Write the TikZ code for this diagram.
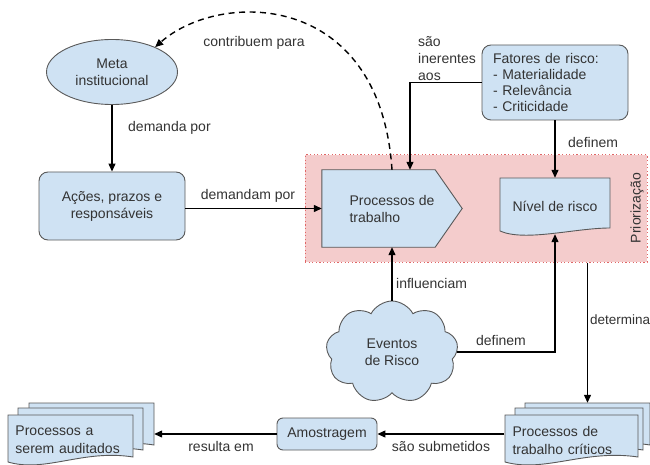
\documentclass[tikz,border=0pt]{standalone}
\usepackage{fontspec}
\setmainfont{Liberation Sans}
\usetikzlibrary{shapes.geometric,shapes.symbols,arrows.meta,calc}
\definecolor{boxfill}{HTML}{CFE2F3}
\definecolor{boxdraw}{HTML}{595959}
\definecolor{prfill}{HTML}{F4CCCC}
\definecolor{prdraw}{HTML}{E06666}
\definecolor{txt}{HTML}{333333}
\pgfdeclarelayer{bg}\pgfdeclarelayer{mid}\pgfsetlayers{bg,mid,main}
\tikzset{
  shp/.style={draw=boxdraw, fill=boxfill, line width=0.9pt},
  box/.style={shp, rounded corners=9pt, align=center},
  lbl/.style={text=txt, inner sep=0pt},
  txtonly/.style={inner sep=0pt, align=left},
  arr/.style={draw=black, line width=1.2pt, -{Triangle[length=8pt,width=7pt]}},
  pics/doc/.style={code={\filldraw[shp] (0,0) -- (#1,0) -- (#1,42) .. controls ({0.6*#1},34) and ({0.3*#1},58) .. (0,47) -- cycle;}}
}
\begin{document}
\begin{tikzpicture}[x=1pt,y=-1pt, font=\fontsize{14}{17}\selectfont, text=txt]
\useasboundingbox (0,0) rectangle (650,465);

% priorization region
\begin{pgfonlayer}{bg}
\node[draw=prdraw, fill=prfill, line width=1pt, dash pattern=on 1.2pt off 2.4pt,
      minimum width=342pt, minimum height=107pt, inner sep=0pt] (prio) at (476,208.5) {};
\end{pgfonlayer}
\node[lbl, rotate=90] (priolbl) at (637,208) {Priorização};

% main nodes
\node[shp, ellipse, minimum width=131pt, minimum height=65pt, align=center, inner sep=1pt] (meta) at (112,72) {Meta\\institucional};
\node[box, minimum width=146pt, minimum height=68pt] (acoes) at (112,206) {Ações, prazos e\\responsáveis};
\node[txtonly, minimum width=140pt, minimum height=77pt] (proc) at (392,208.5) {Processos de\\trabalho};
\node[txtonly, align=center, minimum width=110pt, minimum height=56pt] (nivel) at (555,206) {Nível de risco};
\node[box, align=left, text width=124pt, inner xsep=11pt, inner ysep=4pt, minimum height=75pt,
      font=\fontsize{14}{16.3}\selectfont] (fat) at (555,82.5) {Fatores de risco:\\- Materialidade\\- Relevância\\- Criticidade};
\node[shp, cloud, cloud puffs=9, cloud puff arc=125, aspect=1.3, minimum width=132pt, minimum height=102pt,
      inner sep=0pt, align=center] (cloud) at (392,352) {Eventos\\de Risco};
\node[box, rounded corners=6pt, minimum width=100pt, minimum height=32pt] (amos) at (327,434) {Amostragem};

% document stacks
\begin{pgfonlayer}{mid}
\filldraw[shp] (proc.north west) -- ([xshift=-27pt]proc.north east) -- (proc.east)
  -- ([xshift=-27pt]proc.south east) -- (proc.south west) -- cycle;
\filldraw[shp] (500,178) -- (610,178) -- (610,228) .. controls (575,228) and (525,242) .. (500,231) -- cycle;
\pic at (525,403) {doc=125};
\pic at (515,408) {doc=128};
\pic at (505,415) {doc=133};
\pic at (29,403) {doc=125};
\pic at (18,408) {doc=125};
\pic at (8,415) {doc=125};
\end{pgfonlayer}
\node[minimum width=125pt, minimum height=47pt, inner sep=0pt] (critback) at (587.5,426.5) {};
\node[txtonly, text width=118pt, inner xsep=8pt, minimum height=47pt, font=\fontsize{14}{18}\selectfont] (crit) at (571.5,440) {Processos de\\trabalho críticos};
\node[minimum width=125pt, minimum height=47pt, inner sep=0pt] (audback) at (91.5,426.5) {};
\node[txtonly, text width=110pt, inner xsep=7.5pt, minimum height=47pt, font=\fontsize{14}{18}\selectfont] (aud) at (70.5,440) {Processos a\\serem auditados};

% labels
\node[lbl, anchor=west] (l1) at (128,128) {demanda por};
\node[lbl] (l2) at (254,43) {contribuem para};
\node[lbl] (l3) at (248,196) {demandam por};
\node[lbl, anchor=west, align=left] (l4) at (418,59) {são\\inerentes\\aos};
\node[lbl, anchor=west] (l5) at (568,142) {definem};
\node[lbl, anchor=west] (l6) at (396,283) {influenciam};
\node[lbl] (l7) at (501,340) {definem};
\node[lbl, anchor=west, font=\fontsize{13.5}{16}\selectfont] (l8) at (590,320) {determina};
\node[lbl] (l9) at (441,446) {são submetidos};
\node[lbl] (l10) at (221,446) {resulta em};

% connectors
\draw[arr] (meta.south) -- (acoes.north);
\draw[arr] (acoes.east |- proc.west) -- (proc.west);
\draw[arr, dash pattern=on 6pt off 4.5pt, line width=1.4pt] (proc.north) .. controls (380,-10) and (220,-10) .. (meta.30);
\draw[arr] (fat.west) -| ([xshift=18pt]proc.north);
\draw[arr] (fat.south) -- (nivel.north);
\draw[arr] (cloud.north) -- (proc.south);
\draw[arr] (cloud.east) -| (nivel.south);
\draw[arr] (prio.south -| critback.north) -- (critback.north);
\draw[arr] (amos.east -| crit.west) -- (amos.east);
\draw[arr] (amos.west) -- (amos.west -| audback.east);
\end{tikzpicture}
\end{document}
